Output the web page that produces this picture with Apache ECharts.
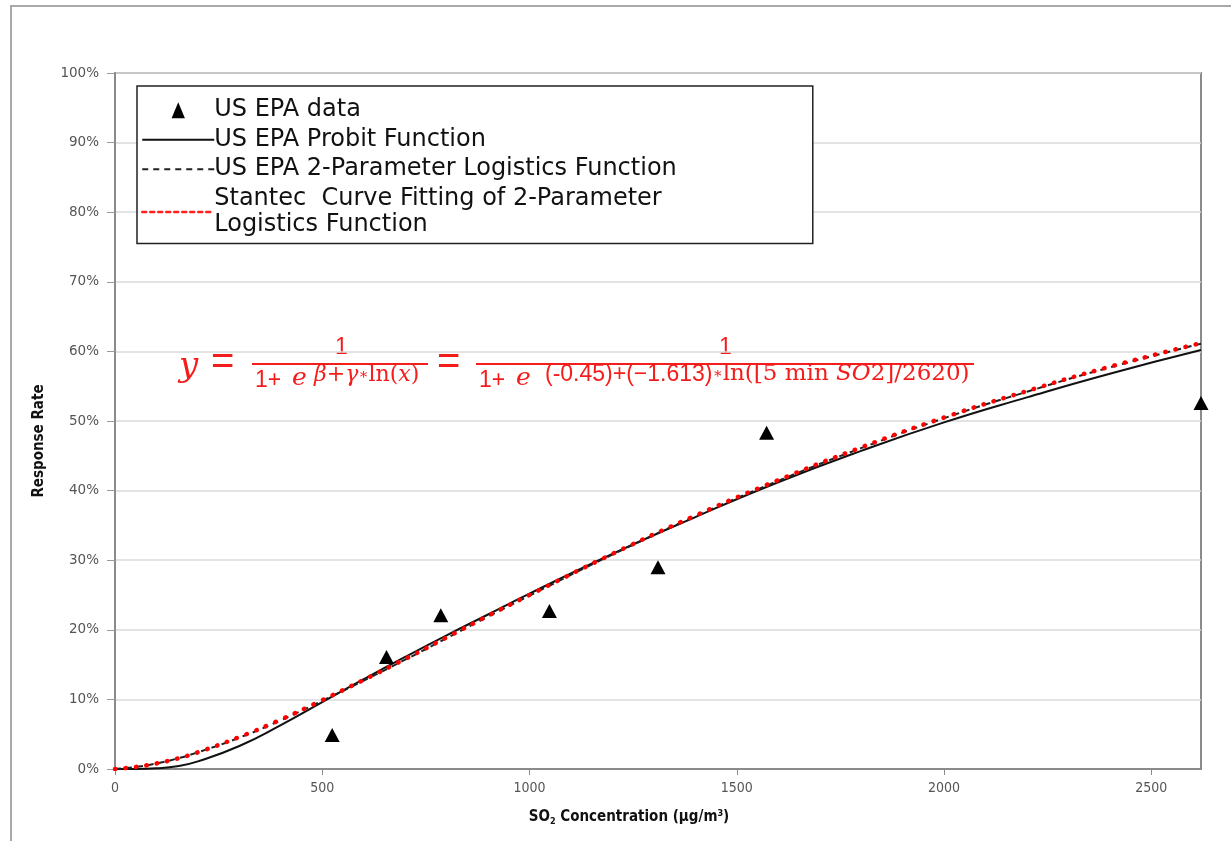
<!DOCTYPE html>
<html>
<head>
<meta charset="utf-8">
<title>SO2 response rate</title>
<script src="https://cdn.jsdelivr.net/npm/echarts@6/dist/echarts.min.js"></script>
<style>
  html, body { margin: 0; padding: 0; background: #fff; }
  #frame {
    position: absolute; left: 10px; top: 5px; width: 1240px; height: 860px;
    border-left: 2px solid #a9a9a9; border-top: 2px solid #a9a9a9;
  }
  #main { position: absolute; left: 0; top: 0; width: 1231px; height: 841px; }
</style>
</head>
<body>
<div id="frame"></div>
<div id="main"></div>
<script>
// observed data (triangles)
const epaX = [524, 655, 786, 1048, 1310, 1572, 2620]
const epaY = [0.049, 0.161, 0.221, 0.227, 0.290, 0.483, 0.526]

// curve points
const curveX = [0, 50, 100, 150, 200, 300, 400, 500, 600, 700, 800, 900, 1000,
  1200, 1400, 1600, 1800, 2000, 2200, 2400, 2620]
const probitY = [0, 0, 0.001, 0.004, 0.011, 0.033, 0.063, 0.096, 0.129, 0.161,
  0.192, 0.222, 0.252, 0.309, 0.362, 0.412, 0.457, 0.498, 0.534, 0.568, 0.602]
const logisticY = [0, 0.003, 0.008, 0.015, 0.024, 0.045, 0.070, 0.098, 0.127,
  0.157, 0.188, 0.219, 0.249, 0.308, 0.363, 0.414, 0.461, 0.504, 0.542, 0.577, 0.611]
const stantecY = [0, 0.003, 0.008, 0.015, 0.024, 0.046, 0.071, 0.099, 0.128,
  0.158, 0.189, 0.220, 0.250, 0.309, 0.364, 0.415, 0.462, 0.505, 0.543, 0.578, 0.612]

const xTicks = [0, 500, 1000, 1500, 2000, 2500]
const yTicks = ['0%', '10%', '20%', '30%', '40%', '50%', '60%', '70%', '80%', '90%', '100%']

const names = {
  data: 'US EPA data',
  probit: 'US EPA Probit Function',
  logistic: 'US EPA 2-Parameter Logistics Function',
  stantec: 'Stantec Curve Fitting of 2-Parameter Logistics Function',
}

const zip = (xs, ys) => xs.map((x, i) => [x, ys[i]])

const red = '#f51c1c'
const serif = '"DejaVu Serif", serif'
const sans = '"Liberation Sans", sans-serif'
const narrow = '"DejaVu Sans Condensed", "Liberation Sans Narrow", "Liberation Sans", sans-serif'

const myChart = echarts.init(document.getElementById('main'))

const hideDot = { opacity: 0 }

const option = {
  animation: false,
  backgroundColor: 'transparent',
  grid: {
    left: 115,
    right: 30,
    top: 73,
    bottom: 72,
    show: true,
    borderColor: '#8a8a8a',
    borderWidth: 2,
  },
  legend: {
    orient: 'vertical',
    left: 137,
    top: 86,
    padding: [11, 136, 5, 4],
    itemGap: 3,
    itemWidth: 72,
    itemHeight: 16,
    borderColor: '#222',
    borderWidth: 1.5,
    backgroundColor: '#fff',
    data: [
      { name: names.data, icon: 'path://M5,0L10,12L0,12Z', itemStyle: { color: '#000', opacity: 1 } },
      { name: names.probit, itemStyle: hideDot },
      { name: names.logistic, itemStyle: hideDot },
      { name: names.stantec, itemStyle: hideDot, lineStyle: { width: 2.5, type: [4, 4], color: '#ff2020' } },
    ],
    formatter: (name) => {
      if (name === names.stantec) return 'Stantec  Curve Fitting of 2-Parameter\nLogistics Function'
      return name
    },
    textStyle: {
      fontFamily: '"DejaVu Sans", sans-serif',
      fontSize: 24,
      lineHeight: 26.5,
      color: '#111',
      padding: [0, 0, 0, -5],
    },
  },
  xAxis: {
    type: 'value',
    min: 0,
    max: 2620,
    interval: 500,
    name: '{b|SO}{s|2}{b| Concentration (μg/m}{p|3}{b|)}',
    nameLocation: 'middle',
    nameGap: 40,
    nameTextStyle: {
      padding: [0, 58, 0, 0],
      rich: {
        b: { fontFamily: narrow, fontWeight: 'bold', fontSize: 15, color: '#111' },
        s: { fontFamily: narrow, fontWeight: 'bold', fontSize: 9, color: '#111', padding: [8, 0, 0, 0] },
        p: { fontFamily: narrow, fontWeight: 'bold', fontSize: 9, color: '#111', padding: [0, 0, 8, 0] },
      },
    },
    axisLine: { show: true, lineStyle: { color: '#8a8a8a', width: 2 } },
    axisTick: { show: true, length: 6, lineStyle: { color: '#8a8a8a' } },
    axisLabel: {
      showMaxLabel: false,
      margin: 12,
      fontFamily: narrow,
      fontSize: 14,
      color: '#555',
      formatter: (v) => (xTicks.includes(v) ? String(v) : ''),
    },
    splitLine: { show: false },
  },
  yAxis: {
    type: 'value',
    min: 0,
    max: 1,
    interval: 0.1,
    name: 'Response Rate',
    nameLocation: 'middle',
    nameGap: 68,
    nameTextStyle: {
      padding: [0, 40, 0, 0],
      fontFamily: narrow,
      fontWeight: 'bold',
      fontSize: 15,
      color: '#111',
    },
    axisLine: { show: true, lineStyle: { color: '#8a8a8a', width: 2 } },
    axisTick: { show: true, length: 8, lineStyle: { color: '#999' } },
    axisLabel: {
      margin: 16,
      fontFamily: '"DejaVu Sans", sans-serif',
      fontSize: 13.5,
      color: '#555',
      formatter: (v) => yTicks[Math.round(v * 10)],
    },
    splitLine: { show: true, lineStyle: { color: '#dadada', width: 1.5 } },
  },
  series: [
    {
      name: names.probit,
      type: 'line',
      data: zip(curveX, probitY),
      smooth: true,
      symbol: 'none',
      itemStyle: { color: '#111' },
      lineStyle: { color: '#111', width: 2 },
      z: 2,
    },
    {
      name: names.logistic,
      type: 'line',
      data: zip(curveX, logisticY),
      smooth: true,
      symbol: 'none',
      itemStyle: { color: '#222' },
      lineStyle: { color: '#222', width: 2, type: [6, 5] },
      z: 3,
    },
    {
      name: names.stantec,
      type: 'line',
      data: zip(curveX, stantecY),
      smooth: true,
      symbol: 'none',
      itemStyle: { color: '#ff0000' },
      lineStyle: { color: '#ff0000', width: 4.5, type: [0.5, 10], cap: 'round' },
      z: 4,
    },
    {
      name: names.data,
      type: 'scatter',
      data: zip(epaX, epaY),
      symbol: 'triangle',
      symbolSize: [15, 14],
      itemStyle: { color: '#000', opacity: 1 },
      z: 5,
    },
  ],
  graphic: [
    { type: 'text', left: 179, top: 350, style: { text: 'y', font: 'italic 34px ' + serif, fill: red } },
    { type: 'text', left: 211, top: 343, style: { text: '=', font: '40px ' + sans, fill: red } },
    { type: 'line', shape: { x1: 252, y1: 364, x2: 428, y2: 364 }, style: { stroke: red, lineWidth: 2 } },
    { type: 'text', left: 335, top: 336, style: { text: '1', font: '23px ' + sans, fill: red } },
    { type: 'text', left: 255, top: 369, style: { text: '1+', font: '23px ' + sans, fill: red } },
    { type: 'text', left: 292, top: 366, style: { text: 'e', font: 'italic 25px ' + serif, fill: red } },
    {
      type: 'text', left: 314, top: 364,
      style: {
        text: '{i|β}{a|+}{i|γ}{s|∗}{a|ln(}{i|x}{a|)}',
        rich: {
          a: { font: '22px ' + serif, fill: red },
          i: { font: 'italic 22px ' + serif, fill: red },
          s: { font: '15px ' + serif, fill: red },
        },
      },
    },
    { type: 'text', left: 437, top: 343, style: { text: '=', font: '40px ' + sans, fill: red } },
    { type: 'line', shape: { x1: 476, y1: 364, x2: 974, y2: 364 }, style: { stroke: red, lineWidth: 2 } },
    { type: 'text', left: 719, top: 336, style: { text: '1', font: '23px ' + sans, fill: red } },
    { type: 'text', left: 479, top: 369, style: { text: '1+', font: '23px ' + sans, fill: red } },
    { type: 'text', left: 516, top: 366, style: { text: 'e', font: 'italic 25px ' + serif, fill: red } },
    {
      type: 'text', left: 545, top: 363,
      style: {
        text: '{n|(-0.45)+(−1.613)}{s|∗}{a|ln([5 min }{i|SO}{a|2]/2620)}',
        rich: {
          n: { font: '23px ' + sans, fill: red },
          a: { font: '23px ' + serif, fill: red },
          i: { font: 'italic 23px ' + serif, fill: red },
          s: { font: '15px ' + serif, fill: red },
        },
      },
    },
  ],
}

myChart.setOption(option)
</script>
</body>
</html>
